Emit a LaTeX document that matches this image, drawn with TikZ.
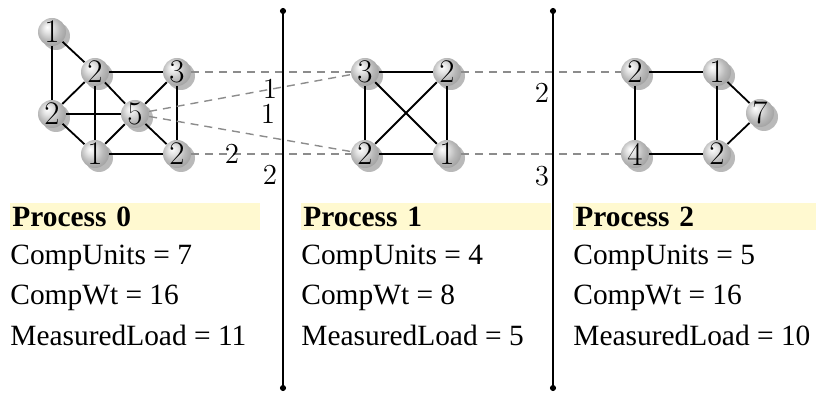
\documentclass[tikz,border=0pt]{standalone}
\usepackage{fontspec}
\newfontfamily\timesfont{Liberation Serif}
\usepackage{tikz}
\usetikzlibrary{shadows,arrows.meta}
\definecolor{hlyellow}{RGB}{255,249,208}
\pgfdeclareradialshading{softball}{\pgfpoint{-9bp}{9bp}}{%
  color(0bp)=(white); color(8bp)=(gray!20); color(20bp)=(gray!55);
  color(28bp)=(gray!70); color(50bp)=(gray!70)}

\begin{document}
\begin{tikzpicture}[
    x=0.5pt, y=-0.5pt,
    vtx/.style={circle, inner sep=0pt, minimum size=14pt, shading=softball,
      font=\fontsize{16.5}{16.5}\selectfont,
      drop shadow={shadow xshift=2pt, shadow yshift=-2pt, fill=gray!55, opacity=1}},
    link/.style={line width=0.9pt},
    cut/.style={gray!90, line width=0.7pt, dash pattern=on 4pt off 3pt},
    wt/.style={inner sep=0pt, font=\fontsize{14.5}{14.5}\selectfont},
    sep/.style={line width=0.9pt, {Circle[length=3pt]}-{Circle[length=3pt]}},
    head/.style={anchor=west, fill=hlyellow, inner xsep=1pt, inner ysep=0pt, minimum height=13.5pt,
      text width=123pt, align=left, font=\timesfont\bfseries\fontsize{14.7}{14.7}\selectfont},
    info/.style={anchor=base west, inner sep=0pt, font=\timesfont\fontsize{14.7}{14.7}\selectfont}
]
\useasboundingbox (0,0) rectangle (816,395);

% Process 0: seven units
\node[vtx] (a1) at (52,32) {1};
\node[vtx] (a2) at (95,72) {2};
\node[vtx] (a3) at (177,72) {3};
\node[vtx] (a4) at (52,114) {2};
\node[vtx] (a5) at (135,114) {5};
\node[vtx] (a6) at (95,154) {1};
\node[vtx] (a7) at (177,154) {2};

% Process 1: four units
\node[vtx] (b1) at (365,72) {3};
\node[vtx] (b2) at (447,72) {2};
\node[vtx] (b3) at (365,154) {2};
\node[vtx] (b4) at (447,154) {1};

% Process 2: five units
\node[vtx] (c1) at (635,72) {2};
\node[vtx] (c2) at (717,72) {1};
\node[vtx] (c3) at (760,113) {7};
\node[vtx] (c4) at (635,154) {4};
\node[vtx] (c5) at (717,154) {2};

% Edges inside process 0
\draw[link] (a1) -- (a2);
\draw[link] (a1) -- (a4);
\draw[link] (a2) -- (a3);
\draw[link] (a2) -- (a4);
\draw[link] (a2) -- (a6);
\draw[link] (a2) -- (a5);
\draw[link] (a3) -- (a5);
\draw[link] (a3) -- (a7);
\draw[link] (a4) -- (a5);
\draw[link] (a4) -- (a6);
\draw[link] (a6) -- (a5);
\draw[link] (a5) -- (a7);
\draw[link] (a6) -- (a7);

% Edges inside process 1
\draw[link] (b1) -- (b2);
\draw[link] (b1) -- (b3);
\draw[link] (b1) -- (b4);
\draw[link] (b2) -- (b3);
\draw[link] (b2) -- (b4);
\draw[link] (b3) -- (b4);

% Edges inside process 2
\draw[link] (c1) -- (c2);
\draw[link] (c1) -- (c4);
\draw[link] (c2) -- (c5);
\draw[link] (c2) -- (c3);
\draw[link] (c3) -- (c5);
\draw[link] (c4) -- (c5);

% Edges cut by the partition
\draw[cut] (a3) -- (b1);
\draw[cut] (a5) -- (b1);
\draw[cut] (a5) -- (b3);
\draw[cut] (a7) -- (b3);
\draw[cut] (b2) -- (c1);
\draw[cut] (b4) -- (c4);

% Edge weights
\node[wt] (w1) at (270,89) {1};
\node[wt] (w2) at (268,114) {1};
\node[wt] (w3) at (232,154) {2};
\node[wt] (w4) at (270,175) {2};
\node[wt] (w5) at (542,93) {2};
\node[wt] (w6) at (542,176) {3};

% Separators
\coordinate (s1top) at (283,8);
\coordinate (s1bot) at (283,391);
\coordinate (s2top) at (553,8);
\coordinate (s2bot) at (553,391);
\draw[sep] (s1top) -- (s1bot);
\draw[sep] (s2top) -- (s2bot);

% Load figures
\node[head] (p0) at (10,216.5) {Process 0};
\node[info] (p0units) at (10,265) {CompUnits = 7};
\node[info] (p0wt) at (10,305) {CompWt = 16};
\node[info] (p0load) at (10,346) {MeasuredLoad = 11};

\node[head] (p1) at (301,216.5) {Process 1};
\node[info] (p1units) at (301,265) {CompUnits = 4};
\node[info] (p1wt) at (301,305) {CompWt = 8};
\node[info] (p1load) at (301,346) {MeasuredLoad = 5};

\node[head, text width=119.5pt] (p2) at (573,216.5) {Process 2};
\node[info] (p2units) at (573,265) {CompUnits = 5};
\node[info] (p2wt) at (573,305) {CompWt = 16};
\node[info] (p2load) at (573,346) {MeasuredLoad = 10};

\end{tikzpicture}
\end{document}
